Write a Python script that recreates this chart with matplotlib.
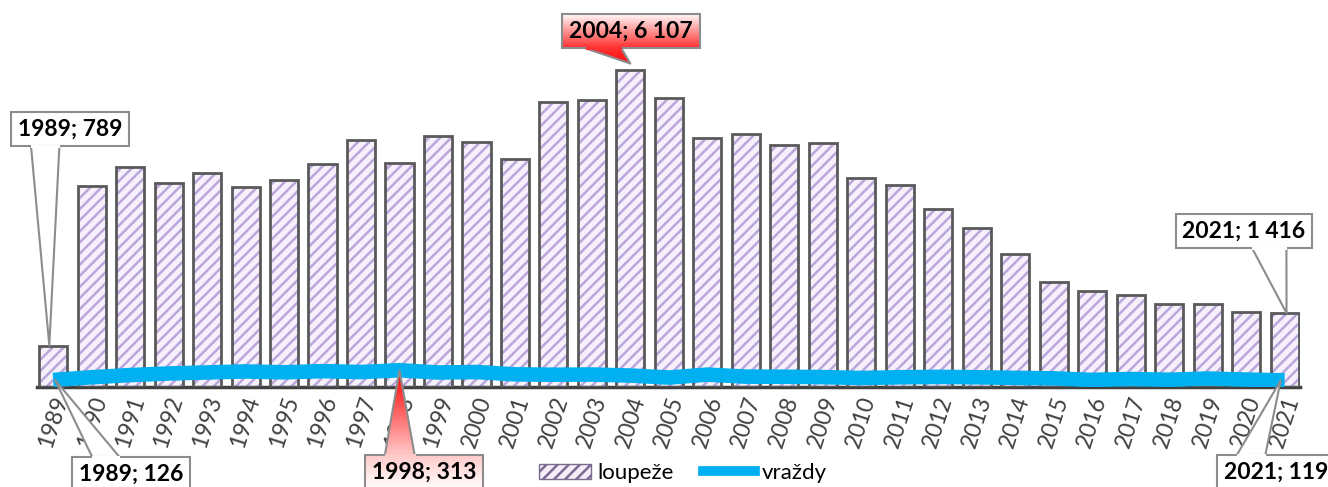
import matplotlib.pyplot as plt
import numpy as np
from matplotlib.patches import Patch, Polygon
from matplotlib.lines import Line2D
from matplotlib.colors import LinearSegmentedColormap

plt.rcParams['font.family'] = ['Lato', 'DejaVu Sans']
plt.rcParams['hatch.linewidth'] = 1.8

# data
roky = [str(r) for r in range(1989, 2022)]
loupeze = [789, 3864, 4237, 3921, 4114, 3844, 3979, 4287, 4750, 4307,
           4827, 4712, 4384, 5482, 5520, 6107, 5559, 4789, 4866, 4654,
           4692, 4018, 3883, 3420, 3054, 2553, 2014, 1840, 1763, 1590,
           1590, 1430, 1416]
vrazdy = [126, 178, 220, 251, 271, 290, 274, 296, 279, 313,
          270, 279, 234, 227, 231, 211, 173, 229, 190, 188,
          181, 164, 178, 185, 178, 166, 157, 127, 144, 130,
          154, 133, 119]

W, H = 1328, 487
fig = plt.figure(figsize=(W / 100, H / 100), dpi=100)
ax = fig.add_axes([37 / W, 100.5 / H, 1263 / W, 363 / H])

x = np.arange(len(roky))
# hatched fill + dark outline drawn separately (hatch takes edge colour)
ax.bar(x, loupeze, width=0.73, color='#f5f0fa', edgecolor='#bba6dc',
       hatch='///', linewidth=0, zorder=2)
ax.bar(x, loupeze, width=0.73, fill=False, edgecolor='#5a5a5a',
       linewidth=2, zorder=3)
ax.plot(x, vrazdy, color='#00b0f0', linewidth=10.5, solid_capstyle='butt', zorder=4)

ax.set_xlim(-0.42, 32.4)
ax.set_ylim(0, 7000)
ax.set_xticks(x, roky, rotation=72, fontsize=16.5, color='#404040')
ax.tick_params(axis='x', length=0, pad=5)
ax.set_yticks([])
for s in ['top', 'left', 'right']:
    ax.spines[s].set_visible(False)
ax.spines['bottom'].set_color('#404040')
ax.spines['bottom'].set_linewidth(2.5)

handles = [Patch(facecolor='#f3eef8', edgecolor='#7a6a90', hatch='///', label='loupeže'),
           Line2D([], [], color='#00b0f0', lw=7, label='vraždy')]
fig.legend(handles=handles, loc='center', bbox_to_anchor=(683 / W, 14 / H), ncol=2,
           frameon=False, fontsize=16, handlelength=2.35, handleheight=0.65,
           columnspacing=1.3, handletextpad=0.3)

# overlay in figure pixels for the callouts
ov = fig.add_axes([0, 0, 1, 1], zorder=2)
ov.set_xlim(0, W)
ov.set_ylim(0, H)
ov.axis('off')

# text, target (data), box centre (px from top-left), pointer base (box fraction), edge, gradient
callouts = [
    ('1989; 789', (-0.1, loupeze[0]), (70, 129), (0.17, 0.41), 'bottom', None),
    ('2004; 6 107', (15, loupeze[15] + 120), (631, 31), (0.17, 0.43), 'bottom',
     ('#ffffff', '#ff3030', '#ff3030', '#ff1010')),
    ('2021; 1 416', (32.05, loupeze[32]), (1244, 231), (0.56, 0.81), 'bottom', None),
    ('1989; 126', (0.05, vrazdy[0]), (131, 474), (0.17, 0.40), 'top', None),
    ('1998; 313', (9, vrazdy[9]), (424, 472), (0.17, 0.42), 'top',
     ('#ffc8c8', '#ffffff', '#ff0000', '#ffc8c8')),
    ('2021; 119', (31.9, vrazdy[32]), (1276, 472), (0.17, 0.41), 'top', None),
]

anns = []
for text, xy, pos, base, edge, grad in callouts:
    t = ov.text(pos[0], H - pos[1], text, ha='center', va='center', fontsize=16.5,
                fontweight='bold', color='black', zorder=3, clip_on=False,
                bbox=dict(boxstyle='square,pad=0.3', fc='white' if grad is None else 'none',
                          ec='#8c8c8c', lw=1.5))
    anns.append(t)

fig.canvas.draw()


def vgrad(top, bottom, extent, zorder):
    cmap = LinearSegmentedColormap.from_list('g', [top, bottom])
    return ov.imshow(np.linspace(0, 1, 100).reshape(-1, 1), cmap=cmap, aspect='auto',
                     extent=extent, zorder=zorder, interpolation='bilinear')


for t, (text, xy, pos, base, edge, grad) in zip(anns, callouts):
    bb = t.get_bbox_patch().get_window_extent()
    yb = bb.y0 if edge == 'bottom' else bb.y1
    b0 = bb.x0 + base[0] * bb.width
    b1 = bb.x0 + base[1] * bb.width
    tx, ty = ax.transData.transform(xy)
    tri = Polygon([(b0, yb), (tx, ty), (b1, yb)], closed=True,
                  fc='white' if grad is None else 'none', ec='none', zorder=1)
    ov.add_patch(tri)
    fill = 'white'
    if grad is not None:
        vgrad(grad[0], grad[1], (bb.x0, bb.x1, bb.y0, bb.y1), 2.5)
        if edge == 'bottom':
            im = vgrad(grad[2], grad[3], (min(b0, tx), max(b1, tx), ty, yb), 1)
            fill = grad[1]
        else:
            im = vgrad(grad[2], grad[3], (min(b0, tx), max(b1, tx), yb, ty), 1)
            fill = grad[0]
        im.set_clip_path(tri)
    ov.add_line(Line2D([b0, tx, b1], [yb, ty, yb], color='#8c8c8c', lw=1.5, zorder=2))
    ov.add_line(Line2D([b0 + 1, b1 - 1], [yb, yb], color=fill, lw=2.2, zorder=4))

ov.set_xlim(0, W)
ov.set_ylim(0, H)

fig.savefig('out.png', dpi=100, facecolor='white')
